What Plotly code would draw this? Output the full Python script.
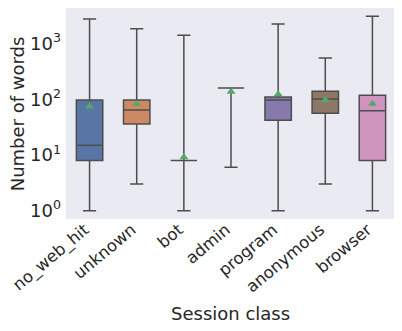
import plotly.graph_objects as go

# session classes and box stats (number of words)
classes = ["no_web_hit", "unknown", "bot", "admin", "program", "anonymous", "browser"]
lower = [1, 3, 1, 6, 1, 3, 1]
q1 = [8, 36, 8, 159, 42, 56, 8]
median = [15, 64, 8, 159, 97, 101, 62]
q3 = [97, 97, 8, 159, 110, 139, 118]
upper = [2760, 1850, 1410, 159, 2240, 550, 3100]
means = [74, 82, 9.1, 137, 123, 97, 83]

colors = ["#5875a4", "#cc8963", "#5f9e6e", "#b55d60", "#857aab", "#8d7866", "#d095bf"]
LINE = "#4d4d4d"
FONT = "DejaVu Sans"

fig = go.Figure()
for i, c in enumerate(classes):
    fig.add_trace(go.Box(
        x=[c], q1=[q1[i]], median=[median[i]], q3=[q3[i]],
        lowerfence=[lower[i]], upperfence=[upper[i]],
        fillcolor=colors[i], line=dict(color=LINE, width=1.5),
        whiskerwidth=0.5, showlegend=False, hoverinfo="skip",
    ))

fig.add_trace(go.Scatter(
    x=classes, y=means, mode="markers", showlegend=False,
    marker=dict(symbol="triangle-up", size=8, color="#55a868", line=dict(width=0)),
))

# the page body adds an 8px offset, so the figure is sized/margined to compensate
fig.update_layout(
    width=394, height=323,
    margin=dict(l=58, r=6, t=0, b=112),
    paper_bgcolor="white", plot_bgcolor="#eaeaf2",
    font=dict(family=FONT, size=18, color="#262626"),
    boxgap=0.2,
)
fig.update_xaxes(
    tickangle=-40, showgrid=False, zeroline=False, ticks="",
    range=[-0.5, 6.5], automargin=False, tickfont=dict(size=16.5),
    ticklabelshift=-5, ticklabelstandoff=-3,
)
fig.update_yaxes(
    type="log", range=[-0.149, 3.639], showgrid=False, zeroline=False, ticks="",
    tickvals=[1, 10, 100, 1000], automargin=False, ticklabelstandoff=4,
    ticktext=["10<sup>0</sup>", "10<sup>1</sup>", "10<sup>2</sup>", "10<sup>3</sup>"],
)

# axis titles placed by hand
fig.add_annotation(text="Number of words", xref="paper", yref="paper",
                   x=-0.146, y=0.5, xanchor="center", yanchor="middle",
                   textangle=-90, showarrow=False, font=dict(size=18),
                   borderpad=0)
fig.add_annotation(text="Session class", xref="paper", yref="paper",
                   x=0.497, y=-0.4455, xanchor="center", yanchor="middle",
                   showarrow=False, font=dict(size=18))

fig.write_html("out.html")
